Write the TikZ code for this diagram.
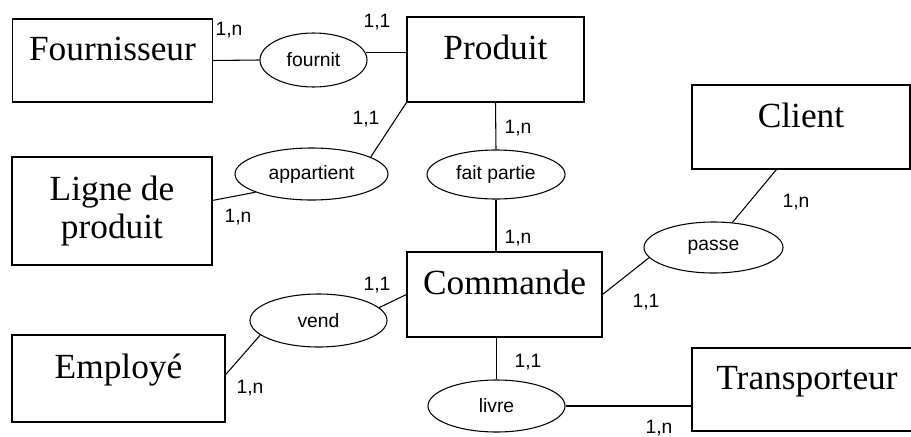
\documentclass[tikz,border=0pt]{standalone}
\usepackage{fontspec}
\setmainfont{Liberation Serif}
\setsansfont{Liberation Sans}
\usetikzlibrary{shapes.geometric}

\begin{document}
\begin{tikzpicture}[x=0.75pt,y=-0.75pt,line width=0.8pt,
    entity/.style={draw,rectangle,font=\fontsize{26.5}{28.5}\selectfont,text height=0.7em,text depth=0.7em},
    relation/.style={draw,ellipse,inner sep=0pt,font=\sffamily\fontsize{14.5}{16}\selectfont},
    card/.style={inner sep=0pt,font=\sffamily\fontsize{14.5}{16}\selectfont}]
    \useasboundingbox (0,0) rectangle (911,436);
    \clip (0,0) rectangle (911,436);

    % entities
    \node[entity,minimum width=150pt,minimum height=62.25pt] (four) at (112.5,60.5) {Fournisseur};
    \node[entity,minimum width=132.75pt,minimum height=63.75pt] (prod) at (495.5,59.5) {Produit};
    \node[entity,minimum width=150pt,minimum height=81pt,text height=,text depth=,align=center] (lig) at (112,211) {Ligne de\\produit};
    \node[entity,minimum width=163.5pt,minimum height=63pt] (cli) at (801,127) {Client};
    \node[entity,minimum width=146.25pt,minimum height=63.75pt] (com) at (504.5,294.5) {Commande};
    \node[entity,minimum width=159.75pt,minimum height=65.25pt] (emp) at (118.5,378.5) {Employé};
    \node[entity,minimum width=172.5pt,minimum height=62.25pt] (trans) at (807,389.5) {Transporteur};

    % relations
    \node[relation,minimum width=80.25pt,minimum height=40.5pt] (fournit) at (313.5,60) {fournit};
    \node[relation,minimum width=114.75pt,minimum height=39pt] (app) at (311.5,174) {appartient};
    \node[relation,minimum width=103.5pt,minimum height=36.75pt] (fait) at (496,174.5) {fait partie};
    \node[relation,minimum width=104.25pt,minimum height=38.25pt] (passe) at (713.5,247.5) {passe};
    \node[relation,minimum width=102.75pt,minimum height=39.75pt] (vend) at (318.5,320.5) {vend};
    \node[relation,minimum width=102.75pt,minimum height=39pt] (livre) at (496.5,406) {livre};

    % links
    \draw (four.east) -- (fournit.west);
    \draw (fournit.8) -- (fournit.8 -| prod.west);
    \draw (prod.south west) -- (app.16);
    \draw (app.198) -- (lig.6);
    \draw (prod.south) -- (fait.north);
    \draw (fait.south) -- (fait.south |- com.north);
    \draw (com.south -| livre.north) -- (livre.north);
    \draw (livre.east) -- (livre.east -| trans.west);
    \draw (com.east) -- (passe.189);
    \draw (passe.53) -- (cli.240);
    \draw (vend.12) -- (com.west);
    \draw (emp.2) -- (vend.194);

    % cardinalities
    \node[card] (c1) at (229,30) {1,n};
    \node[card] (c2) at (377,22) {1,1};
    \node[card] (c3) at (366,119) {1,1};
    \node[card] (c4) at (238,217) {1,n};
    \node[card] (c5) at (518,128) {1,n};
    \node[card] (c6) at (518,238) {1,n};
    \node[card] (c7) at (377,285) {1,1};
    \node[card] (c8) at (250,388) {1,n};
    \node[card] (c9) at (646,302) {1,1};
    \node[card] (c10) at (796,202) {1,n};
    \node[card] (c11) at (528,362) {1,1};
    \node[card] (c12) at (659,428) {1,n};
\end{tikzpicture}
\end{document}
